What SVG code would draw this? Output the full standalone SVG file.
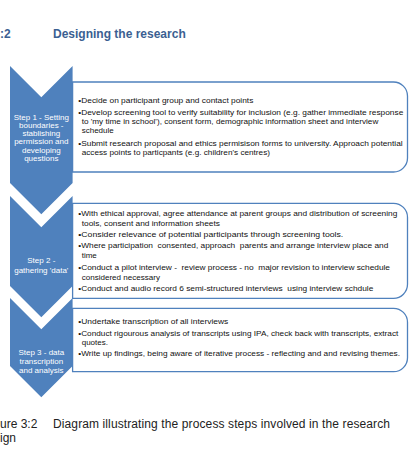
<svg xmlns="http://www.w3.org/2000/svg" width="410" height="468" viewBox="0 0 410 468">
<style>
.title{font-family:"Liberation Sans",Arial,sans-serif;font-size:12px;font-weight:bold;fill:#3b5f92}
.cap{font-family:"Liberation Sans",Arial,sans-serif;font-size:12px;fill:#222}
.chev{fill:#4f81bd}
.box{fill:#fff;stroke:#4f81bd;stroke-width:1.3}
.ct{font-family:"Liberation Sans",Arial,sans-serif;font-size:8px;fill:#fff;text-anchor:middle}
.bt{font-family:"Liberation Sans",Arial,sans-serif;font-size:8px;fill:#111;white-space:pre}
</style>
<rect width="410" height="468" fill="#fff"/>
<g id="heading">
<text class="title" x="0" y="38">:2</text>
<text class="title" x="53" y="38">Designing the research</text>
</g>
<g id="connectors"/>
<g id="step1-chevron">
<path class="chev" d="M10,66 L41.3,97.3 L72.6,66 L72.6,183 L41.3,214.3 L10,183 Z"/>
<text class="ct" x="41.3" y="120.1">Step 1 - Setting</text>
<text class="ct" x="41.3" y="128.2">boundaries -</text>
<text class="ct" x="41.3" y="136.3">stablishing</text>
<text class="ct" x="41.3" y="144.4">permission and</text>
<text class="ct" x="41.3" y="152.5">developing</text>
<text class="ct" x="41.3" y="160.6">questions</text>
</g>
<g id="step2-chevron">
<path class="chev" d="M10,196 L41.3,227.3 L72.6,196 L72.6,286 L41.3,317.3 L10,286 Z"/>
<text class="ct" x="41.3" y="262.8">Step 2 -</text>
<text class="ct" x="41.3" y="273.3">gathering 'data'</text>
</g>
<g id="step3-chevron">
<path class="chev" d="M10,298 L41.3,329.3 L72.6,298 L72.6,366 L41.3,397.3 L10,366 Z"/>
<text class="ct" x="41.3" y="354.5">Step 3 - data</text>
<text class="ct" x="41.3" y="363.5">transcription</text>
<text class="ct" x="41.3" y="372.6">and analysis</text>
</g>
<g id="step1-box">
<path class="box" d="M72.6,82 H393.5 A14,14 0 0 1 407.5,96 V158 A14,14 0 0 1 393.5,172 H72.6 Z"/>
<text class="bt" x="78.3" y="102.8" textLength="175" lengthAdjust="spacingAndGlyphs">•Decide on participant group and contact points</text>
<text class="bt" x="78.3" y="115.2" textLength="325" lengthAdjust="spacingAndGlyphs">•Develop screening tool to verify suitability for inclusion (e.g. gather immediate response</text>
<text class="bt" x="81.7" y="124.2" textLength="296.6" lengthAdjust="spacingAndGlyphs">to 'my time in school'), consent form, demographic information sheet and interview</text>
<text class="bt" x="81.7" y="133.2">schedule</text>
<text class="bt" x="78.3" y="145.6" textLength="324.4" lengthAdjust="spacingAndGlyphs">•Submit research proposal and ethics permisison forms to university. Approach potential</text>
<text class="bt" x="81.7" y="154.6" textLength="188.3" lengthAdjust="spacingAndGlyphs">access points to particpants (e.g. children's centres)</text>
</g>
<g id="step2-box">
<path class="box" d="M72.6,203.3 H393.5 A14,14 0 0 1 407.5,217.3 V284.3 A14,14 0 0 1 393.5,298.3 H72.6 Z"/>
<text class="bt" x="78.3" y="216.1" textLength="319" lengthAdjust="spacingAndGlyphs">•With ethical approval, agree attendance at parent groups and distribution of screening</text>
<text class="bt" x="81.7" y="225.5" textLength="138.3" lengthAdjust="spacingAndGlyphs">tools, consent and information sheets</text>
<text class="bt" x="78.3" y="236.8" textLength="265" lengthAdjust="spacingAndGlyphs">•Consider relevance of potential participants through screening tools.</text>
<text class="bt" x="78.3" y="247.8" textLength="310" lengthAdjust="spacingAndGlyphs">•Where participation  consented, approach  parents and arrange interview place and</text>
<text class="bt" x="81.7" y="257.8">time</text>
<text class="bt" x="78.3" y="269.5" textLength="311.7" lengthAdjust="spacingAndGlyphs">•Conduct a pilot interview -  review process - no  major revision to interview schedule</text>
<text class="bt" x="81.7" y="280.1" textLength="78.3" lengthAdjust="spacingAndGlyphs">considered necessary</text>
<text class="bt" x="78.3" y="291.1" textLength="295" lengthAdjust="spacingAndGlyphs">•Conduct and audio record 6 semi-structured interviews  using interview schdule</text>
</g>
<g id="step3-box">
<path class="box" d="M72.6,308.3 H393.5 A14,14 0 0 1 407.5,322.3 V357.7 A14,14 0 0 1 393.5,371.7 H72.6 Z"/>
<text class="bt" x="78.3" y="323.5" textLength="150" lengthAdjust="spacingAndGlyphs">•Undertake transcription of all interviews</text>
<text class="bt" x="78.3" y="336.1" textLength="320" lengthAdjust="spacingAndGlyphs">•Conduct rigourous analysis of transcripts using IPA, check back with transcripts, extract</text>
<text class="bt" x="81.7" y="344.5">quotes.</text>
<text class="bt" x="78.3" y="355.5" textLength="321.7" lengthAdjust="spacingAndGlyphs">•Write up findings, being aware of iterative process - reflecting and and revising themes.</text>
</g>
<g id="caption">
<text class="cap" x="0" y="427.5">ure 3:2</text>
<text class="cap" x="53" y="427.5" textLength="337" lengthAdjust="spacing">Diagram illustrating the process steps involved in the research</text>
<text class="cap" x="0" y="441.5">ign</text>
</g>
</svg>
